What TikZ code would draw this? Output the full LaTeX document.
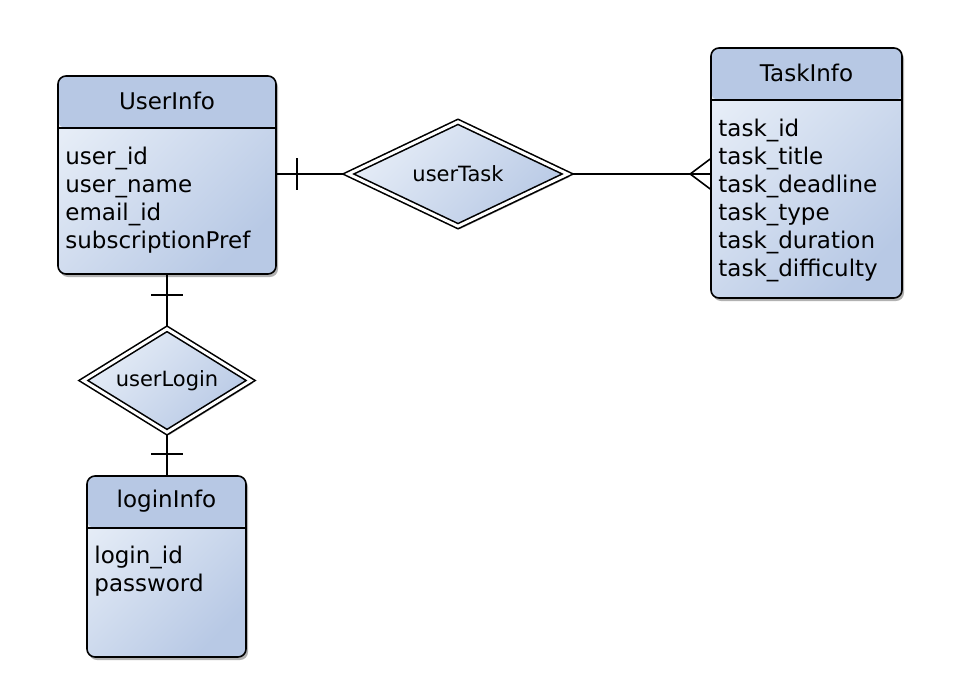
\documentclass[tikz,border=0pt]{standalone}
\usepackage{fontspec}
\setmainfont{DejaVu Sans}
\usetikzlibrary{shapes.geometric,shadows,backgrounds}
\definecolor{headfill}{RGB}{183,200,228}
\definecolor{bodylight}{RGB}{230,237,247}
\definecolor{bodydark}{RGB}{184,201,229}
\tikzset{
	softshadow/.style={drop shadow={shadow xshift=2pt, shadow yshift=-3pt, opacity=0.3, fill=black}},
	entity/.style={rectangle, rounded corners=8pt, draw, line width=1.6pt, inner sep=0pt,
		top color=bodylight, bottom color=bodydark, shading angle=45, softshadow,
		path picture={
			\fill[headfill] (path picture bounding box.north west) rectangle ([yshift=-52pt]path picture bounding box.north east);
			\draw[line width=1.6pt] ([yshift=-52pt]path picture bounding box.north west) -- ([yshift=-52pt]path picture bounding box.north east);
		}},
	entitytitle/.style={inner sep=0pt, font=\fontsize{23}{28}\selectfont},
	entityattr/.style={anchor=north west, align=left, inner sep=0pt, font=\fontsize{23}{28}\selectfont},
	relation/.style={diamond, aspect=2, draw, line width=1.6pt, double=white, double distance=3pt, inner sep=0pt,
		top color=bodylight, bottom color=bodydark, shading angle=45, softshadow, font=\fontsize{21}{25}\selectfont},
	conn/.style={line width=1.6pt}
}
\begin{document}
\begin{tikzpicture}[x=1pt, y=-1pt]
	\useasboundingbox (0,0) rectangle (960,696);
	\begin{scope}[on background layer]
		\fill[white] (0,0) rectangle (960,696);
	\end{scope}

	\node[entity, minimum width=218pt, minimum height=198pt] (userinfo) at (167,175) {};
	\node[entitytitle] (userinfotitle) at ([yshift=-26pt]userinfo.north) {UserInfo};
	\node[entityattr] (userinfoattr) at ([xshift=8pt,yshift=-72pt]userinfo.north west) {user\_id\\user\_name\\email\_id\\subscriptionPref};

	\node[entity, minimum width=191pt, minimum height=250pt] (taskinfo) at (806.5,173) {};
	\node[entitytitle] (taskinfotitle) at ([yshift=-26pt]taskinfo.north) {TaskInfo};
	\node[entityattr] (taskinfoattr) at ([xshift=8pt,yshift=-72pt]taskinfo.north west) {task\_id\\task\_title\\task\_deadline\\task\_type\\task\_duration\\task\_difficulty};

	\node[entity, minimum width=159pt, minimum height=181pt] (logininfo) at (166.5,566.5) {};
	\node[entitytitle] (logininfotitle) at ([yshift=-26pt]logininfo.north) {loginInfo};
	\node[entityattr] (logininfoattr) at ([xshift=8pt,yshift=-71pt]logininfo.north west) {login\_id\\password};

	\node[relation, minimum width=220pt, minimum height=105pt] (usertask) at (458,174) {userTask};
	\node[relation, minimum width=168pt, minimum height=104pt] (userlogin) at (167,380.5) {userLogin};

	\begin{scope}[on background layer]
		\draw[conn] (usertask.west -| userinfo.east) -- (usertask.west);
		\draw[conn] (usertask.east) -- (usertask.east -| taskinfo.west);
		\draw[conn] (userlogin.north |- userinfo.south) -- (userlogin.north);
		\draw[conn] (userlogin.south) -- (userlogin.south |- logininfo.north);
	\end{scope}

	\draw[conn] (userinfo.east |- usertask.west) ++(20,-16) -- ++(0,32);
	\draw[conn] (userinfo.south -| userlogin.north) ++(-16,20) -- ++(32,0);
	\draw[conn] (logininfo.north -| userlogin.south) ++(-16,-21) -- ++(32,0);
	\draw[conn] (taskinfo.west |- usertask.east) ++(0,-15) -- ++(-20,15) -- ++(20,15);
\end{tikzpicture}
\end{document}
